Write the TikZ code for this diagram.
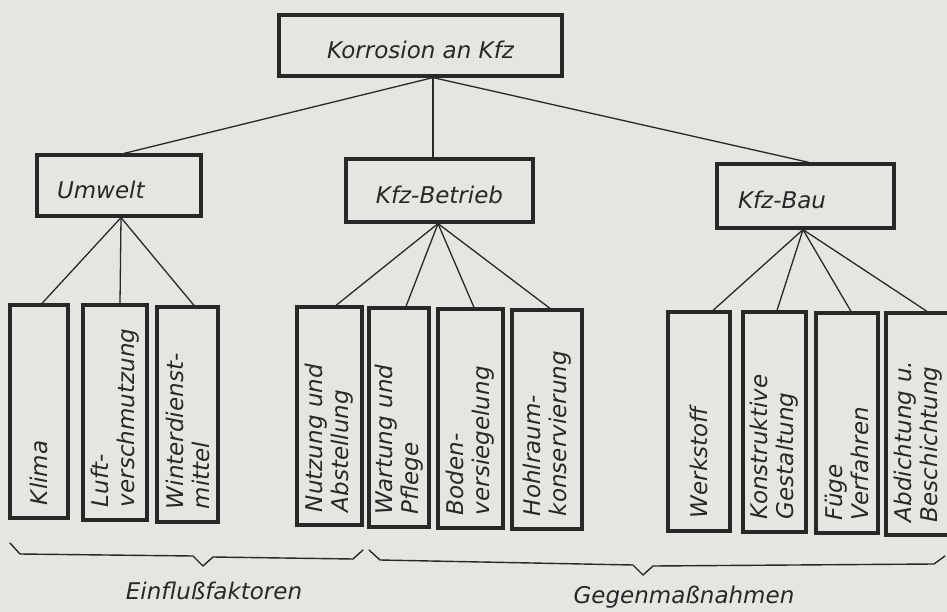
\documentclass[tikz,border=0pt]{standalone}
\usepackage{fontspec}
\setmainfont{DejaVu Sans}
\definecolor{paper}{RGB}{229,229,225}
\definecolor{ink}{RGB}{40,40,40}
\begin{document}
\begin{tikzpicture}[x=1pt,y=-1pt,
  every node/.style={font=\itshape\fontsize{23}{26}\selectfont, text=ink},
  box/.style={draw=ink, line width=3.2pt, inner sep=0pt},
  headbox/.style={box, text height=26pt, text depth=0pt},
  leaf/.style={box, rotate=90, align=left, inner xsep=13pt, inner ysep=0pt},
  conn/.style={draw=ink, line width=1.3pt},
  bracestyle/.style={draw=ink, line width=1.4pt, line join=round, line cap=round}]
\useasboundingbox (0,0) rectangle (947,612);
\fill[paper] (0,0) rectangle (947,612);

% level 0 and 1
\node[headbox, minimum width=283pt, minimum height=61pt] (top) at (420.5,45.5) {Korrosion an Kfz};
\node[headbox, minimum width=164pt, minimum height=61pt, align=left, text width=124pt, inner xsep=20pt] (umwelt) at (119,185.5) {Umwelt};
\node[headbox, minimum width=187pt, minimum height=63pt] (betrieb) at (439.5,190.5) {Kfz-Betrieb};
\node[headbox, minimum width=177pt, minimum height=64pt, align=left, text width=135pt, inner xsep=21pt] (bau) at (805.5,196) {Kfz-Bau};

% leaves
\node[leaf, minimum width=213pt, minimum height=58pt, text width=187pt] (klima) at (39,411.5) {Klima};
\node[leaf, minimum width=215pt, minimum height=64pt, text width=189pt] (luft) at (115,412.5) {Luft-\\verschmutzung};
\node[leaf, minimum width=215pt, minimum height=61pt, text width=189pt] (winter) at (187.5,414.5) {Winterdienst-\\mittel};
\node[leaf, minimum width=218pt, minimum height=65pt, text width=192pt] (nutzung) at (329.5,416) {Nutzung und\\Abstellung};
\node[leaf, minimum width=219pt, minimum height=60pt, text width=193pt] (wartung) at (399,417.5) {Wartung und\\Pflege};
\node[leaf, minimum width=219pt, minimum height=65pt, text width=193pt] (boden) at (470.5,418.5) {Boden-\\versiegelung};
\node[leaf, minimum width=219pt, minimum height=70pt, text width=193pt] (hohl) at (547,419.5) {Hohlraum-\\konservierung};
\node[leaf, minimum width=219pt, minimum height=62pt, text width=193pt] (werk) at (699,421.5) {Werkstoff};
\node[leaf, minimum width=220pt, minimum height=63pt, text width=194pt] (konst) at (774.5,422) {Konstruktive\\Gestaltung};
\node[leaf, minimum width=220pt, minimum height=62pt, text width=194pt] (fuege) at (847,423) {Füge\\Verfahren};
\node[leaf, minimum width=222pt, minimum height=64pt, text width=196pt] (abdicht) at (918,424) {Abdichtung u.\\Beschichtung};

% connectors level 0 -> 1
\draw[conn] ([xshift=12.5pt]top.south) -- ([xshift=5pt]umwelt.north);
\draw[conn] ([xshift=12.5pt]top.south) -- ([xshift=-6.5pt]betrieb.north);
\draw[conn] ([xshift=12.5pt]top.south) -- ([xshift=3.5pt]bau.north);

% connectors level 1 -> 2
\draw[conn] ([xshift=2pt]umwelt.south) -- ([xshift=3pt]klima.east);
\draw[conn] ([xshift=2pt]umwelt.south) -- ([xshift=5pt]luft.east);
\draw[conn] ([xshift=2pt]umwelt.south) -- ([xshift=6.5pt]winter.east);
\draw[conn] ([xshift=-1.5pt]betrieb.south) -- ([xshift=6.5pt]nutzung.east);
\draw[conn] ([xshift=-1.5pt]betrieb.south) -- ([xshift=7pt]wartung.east);
\draw[conn] ([xshift=-1.5pt]betrieb.south) -- ([xshift=3.5pt]boden.east);
\draw[conn] ([xshift=-1.5pt]betrieb.south) -- ([xshift=3pt]hohl.east);
\draw[conn] ([xshift=-2.5pt]bau.south) -- ([xshift=14pt]werk.east);
\draw[conn] ([xshift=-2.5pt]bau.south) -- ([xshift=2.5pt]konst.east);
\draw[conn] ([xshift=-2.5pt]bau.south) -- ([xshift=4pt]fuege.east);
\draw[conn] ([xshift=-2.5pt]bau.south) -- ([xshift=9pt]abdicht.east);

% braces (angular, as printed)
\draw[bracestyle] (10,543) -- (20,554) -- (193,556) -- (203,566) -- (213,557)
   -- (353,559) -- (363,550);
\draw[bracestyle] (369,550) -- (380,560) -- (633,565) -- (643,575) -- (653,566)
   -- (934,564) -- (945,556);
\node (einfl) at (214,591) {Einflußfaktoren};
\node (gegen) at (684,597) {Gegenmaßnahmen};
\end{tikzpicture}
\end{document}
